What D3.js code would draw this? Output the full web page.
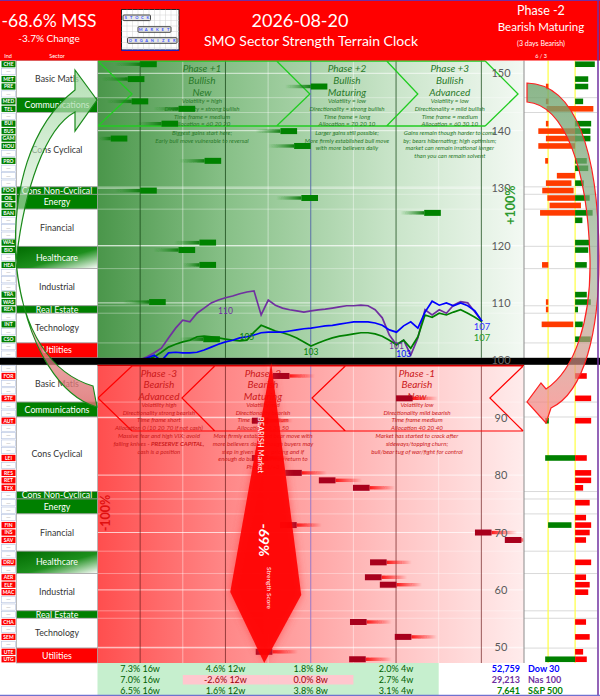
<!DOCTYPE html>
<html><head><meta charset="utf-8">
<script src="https://cdn.jsdelivr.net/npm/d3@7/dist/d3.min.js"></script>
<style>
html,body{margin:0;padding:0;background:#fff;}
svg{display:block;font-family:Lato,"Open Sans",sans-serif;}
</style></head>
<body><svg id="chart" width="600" height="696"></svg>
<script>
// ---------------- DATA ----------------
const sectorNames = ["Basic Matls","Communications","Cons Cyclical","Cons Non-Cyclical","Energy","Financial","Healthcare","Industrial","Real Estate","Technology","Utilities"];
const sectorRows  = [5,2,10,1,2,5,3,5,1,4,2];
const sectorKind  = ["w","g","w","g","g","w","h","w","g","w","r"];
const topTags = ["CHE","","MET","PRE","","MED","TEL","","BUI","BUS","GAM","HOU","","PRO","","","","FOO","OIL","OIL","BAN","","","","WAL","BIO","","HEA","","","","TRA","WAS","REA","","INT","","CSO","",""];
const botTags = ["","FOR","","","STE","","","AUT","","","","","LEI","","RES","RET","TEX","","","","","FIN","INS","SAV","","","DRU","","AER","ELE","MAC","","","","CHA","","SEM","","UTE","UTG"];

// strength bars in the terrain (0-100 across the plot), current and previous
const topBarRow  = [0,2,3,5,6,8,9,10,11,13,17,18,20,24,25,27,32,37];
const topBarNow  = [13.9,11.0,53.9,11.9,22.9,18.9,46.8,7.0,50.0,29.0,13.9,51.7,80.5,27.8,22.9,27.8,16.0,28.7];
const topBarPrev = [4.1,1.0,44.0,2.2,13.1,9.2,37.1,0.2,40.0,19.1,4.1,41.9,71.0,18.0,13.1,20.0,6.0,19.1];
const botBarRow  = [1,4,7,12,14,15,16,21,22,23,26,28,29,34,36,38,39];
const botBarNow  = [41.1,70.0,36.2,36.2,44.0,51.9,59.9,42.8,88.5,95.5,63.9,62.7,66.2,59.2,69.7,37.1,59.0];
const botBarPrev = [51.0,79.8,45.8,45.1,53.8,62.0,69.8,52.6,98.4,100,73.7,72.6,76.1,69.0,79.6,47.0,69.0];

// right panel bars
const topRgRow = [0,2,3,5,8,9,10,13,14,16,18,20,21,24,25,27,31,32,33,35,37];
const topRgLen = [2.7,1.8,1.8,1.1,2.2,2.1,2.1,1.6,1.8,1.2,2.0,2.4,1.0,2.0,1.8,1.6,1.6,2.15,0.4,1.05,2.15];
const topRrRow = [3,5,6,8,9,10,11,13,15,16,17,18,19,20,27,32,33,35];
const topRrFrom= [3.0,3.0,3.1,3.0,1.96,3.0,1.96,2.9,4.5,3.0,2.5,3.2,3.5,2.2,2.47,3.0,3.0,2.42];
const topRrTo  = [3.35,3.35,9.5,3.35,7.3,7.3,7.0,3.3,7.0,6.5,6.8,7.0,7.8,7.0,3.33,3.33,3.33,6.75];
const botRrRow = [1,4,7,12,14,15,16,18,20,21,22,23,26,28,29,30,34,36,38,39];
const botRrLen = [1.6,2.2,2.2,1.6,2.2,2.2,1.1,2.0,1.5,2.2,2.0,1.5,2.2,1.5,2.0,1.8,1.5,2.0,1.1,1.6];
const botRgRow = [7,12,21,39];
const botRgFrom= [2.9,2.9,3.3,2.9];
const botRgTo  = [3.4,7.0,6.5,7.0];

// index lines (rebased to 100)
const dow = [99.9,100.4,100.9,99.9,101.3,101.4,101.3,101.3,101.4,101.8,102.3,102.8,103.2,103.5,103.9,104.1,104.4,104.8,104.9,104.9,104.9,105.1,105.3,105.5,105.6,105.8,106.0,106.1,106.3,106.5,106.7,106.7,106.7,106.5,106.1,105.3,104.9,106.0,106.7,105.6,108.4,110.3,109.6,110.0,109.5,110.0,109.5,108.6,106.8];
const nas = [100.1,100.6,101.3,102.1,103.9,105.6,107.0,106.7,108.2,109.1,110.0,110.5,110.9,111.2,111.6,111.9,112.1,107.9,110.5,109.6,109.1,108.8,108.6,108.4,108.6,108.8,108.9,109.1,109.3,109.5,109.5,109.6,109.5,108.8,107.4,104.4,102.7,103.5,100.9,103.9,108.8,107.9,108.8,108.2,109.6,110.2,110.0,108.4,106.8];
const spx = [99.5,100.1,100.6,101.4,102.3,102.8,103.2,103.5,104.1,104.2,104.1,103.9,103.7,103.5,103.4,103.5,104.9,106.1,105.6,105.1,104.8,104.4,103.9,103.2,102.5,103.0,103.5,103.9,104.2,104.4,104.6,104.8,104.8,104.6,104.2,103.5,102.7,103.5,102.1,104.1,107.9,107.5,108.2,107.9,108.4,108.8,108.2,107.5,106.7];
// value annotations on the lines: series, point index, label, label level
const annSeries = [1,2,2,1,0];
const annIndex  = [12,15,24,36,37];
const annText   = ["110","105","103","101","103"];
const annLevel  = [108.1,103.5,100.9,102.0,100.5];

const axisTicks = [150,140,130,120,110,100,90,80,70,60,50];

const phaseTopTitle = [["Phase +1","Bullish","New"],["Phase +2","Bullish","Maturing"],["Phase +3","Bullish","Advanced"]];
const phaseTopTraits = [["Volatility = high","Directionality = strong bullish","Time frame = medium","Allocation = 60 20 20"],
  ["Volatility = low","Directionality = strong bullish","Time frame = long","Allocation = 70 20 10"],
  ["Volatility = low","Directionality = mild bullish","Time frame = medium","Allocation = 60 30 10"]];
const phaseTopNotes = [["Biggest gains start here;","Early bull move vulnerable to reversal"],
  ["Larger gains still possible;","More firmly established bull move","with more believers daily"],
  ["Gains remain though harder to come","by; bears hibernating; high optimism;","market can remain irrational longer","than you can remain solvent"]];
const phaseTopCenter = [24.5,58.5,82.6];
const phaseBotTitle = [["Phase -3","Bearish","Advanced"],["Phase -2","Bearish","Maturing"],["Phase -1","Bearish","New"]];
const phaseBotTraits = [["Volatility high","Directionality strong bearish","Time frame short","Allocation 0 (10 20 70 if not cash)"],
  ["Volatility mid","Directionality bearish","Time frame medium","Allocation 20 30 50"],
  ["Volatility low","Directionality mild bearish","Time frame medium","Allocation 40 20 40"]];
const phaseBotNotes = [["Massive fear and high VIX; avoid","falling knives -  |PRESERVE CAPITAL,","cash is a position"],
  ["More firmly established bear move with","more believers daily, though buyers may","step in given better pricing and if","enough do bull phase may return to","Phase +1/+3"],
  ["Market has started to crack after","sideways/topping churn;","bull/bear tug of war/fight for control"]];
const phaseBotCenter = [14.4,38.8,74.9];

const tableCells = [["7.3% 16w","4.6% 12w","1.8% 8w","2.0% 4w"],["7.0% 16w","-2.6% 12w","0.0% 8w","2.7% 4w"],["6.5% 16w","1.6% 12w","3.8% 8w","3.1% 4w"]];
const indexValues = ["52,759","29,213","7,641"];
const indexNames  = ["Dow 30","Nas 100","S&P 500"];
const indexColors = ["#0000ff","#7030a0","#008000"];

const mss = "-68.6% MSS", mssChange = "-3.7% Change", dateText = "2026-08-20";
const titleText = "SMO Sector Strength Terrain Clock";
const phaseNow = ["Phase -2","Bearish Maturing","(3 days Bearish)","6 / 3"];
const strengthScore = -69;

// ---------------- SCALES ----------------
const svg = d3.select("#chart");
const defs = svg.append("defs");
const plotX = d3.scaleLinear().domain([0,100]).range([97.5,524]);
const yVal  = d3.scaleLinear().domain([50,150]).range([647.3,73.3]);
const topRow = d3.scaleBand().domain(d3.range(40)).range([60.5,357.8]);
const botRow = d3.scaleBand().domain(d3.range(40)).range([364.8,663]);
const rx = d3.scaleLinear().domain([0,10]).range([524,597]);
const lineX = d3.scaleLinear().domain([0,dow.length-1]).range([140,482]);
const RH = topRow.bandwidth();

function lin(id,x2,y2,stops){
  const g=defs.append("linearGradient").attr("id",id).attr("x1",0).attr("y1",0).attr("x2",x2).attr("y2",y2);
  stops.forEach(s=>g.append("stop").attr("offset",s[0]).attr("stop-color",s[1]).attr("stop-opacity",s[2]==null?1:s[2]));
}
lin("gTop",1,0,[[0,"rgb(74,150,74)"],[0.3,"rgb(135,192,135)"],[0.7,"rgb(202,229,202)"],[1,"rgb(243,249,243)"]]);
lin("gBot",1,0,[[0,"rgb(255,78,78)"],[0.3,"rgb(255,135,135)"],[0.7,"rgb(255,196,196)"],[1,"rgb(255,236,236)"]]);
lin("tailTop",1,0,[[0,"#1f8f1f",0],[1,"#0a7a0a",0.95]]);
lin("tailBot",1,0,[[0,"#ff1010",0.95],[1,"#ff1010",0]]);
lin("gHealth",1,1,[[0,"#006b00"],[0.55,"#1d8f1d"],[1,"#ffffff"]]);
lin("gArrowL",0,1,[[0,"rgb(160,215,160)",0.8],[1,"rgb(235,248,235)",0.45]]);
lin("gArrowL2",0,1,[[0,"rgb(240,180,180)",0.5],[1,"rgb(220,110,110)",0.85]]);
lin("gArrowR",0,1,[[0,"rgb(110,165,110)",0.8],[0.55,"rgb(150,170,140)",0.6],[1,"rgb(255,130,130)",0.75]]);
const glow = defs.append("filter").attr("id","glow").attr("x","-50%").attr("y","-10%").attr("width","200%").attr("height","120%");
glow.append("feGaussianBlur").attr("stdDeviation",4);
const soft = defs.append("filter").attr("id","soft").attr("x","-10%").attr("y","-50%").attr("width","120%").attr("height","200%");
soft.append("feGaussianBlur").attr("stdDeviation",0.6);

svg.append("rect").attr("width",600).attr("height",696).attr("fill","#fff");

// ---------------- PLOT BACKGROUNDS ----------------
const topY0 = topRow.range()[0], topY1 = topRow.range()[1];
const botY0 = botRow.range()[0], botY1 = botRow.range()[1];
svg.append("rect").attr("x",plotX(0)).attr("y",topY0).attr("width",plotX(100)-plotX(0)).attr("height",topY1-topY0).attr("fill","url(#gTop)");
svg.append("rect").attr("x",plotX(0)).attr("y",botY0).attr("width",plotX(100)-plotX(0)).attr("height",botY1-botY0).attr("fill","url(#gBot)");

const bounds = d3.cumsum(sectorRows);
const g = svg.append("g");
bounds.slice(0,-1).forEach(b=>{
  g.append("line").attr("x1",plotX(0)).attr("x2",rx(10)).attr("y1",topRow(b)).attr("y2",topRow(b)).attr("stroke","rgba(255,255,255,0.35)");
  g.append("line").attr("x1",plotX(0)).attr("x2",rx(10)).attr("y1",botRow(b)).attr("y2",botRow(b)).attr("stroke","rgba(255,255,255,0.35)");
});
axisTicks.filter(t=>t!==100).forEach(t=>{
  g.append("line").attr("x1",plotX(0)).attr("x2",plotX(100)).attr("y1",yVal(t)).attr("y2",yVal(t)).attr("stroke","rgba(255,255,255,0.7)").attr("stroke-width",1);
});
d3.range(1,10).forEach(k=>{
  const dark = (k%2===1 && k!==5);
  [[topY0,topY1,"top"],[botY0,botY1,"bot"]].forEach(([a,b,w])=>{
    let col = dark ? (w==="top"?"rgba(20,70,20,0.75)":"rgba(110,30,30,0.7)") : "rgba(255,255,255,0.45)";
    if(k===5) col = w==="top" ? "#5a6fa8" : "#9a7ac8";
    g.append("line").attr("x1",plotX(k*10)).attr("x2",plotX(k*10)).attr("y1",a).attr("y2",b).attr("stroke",col).attr("stroke-width",1);
  });
});

// ---------------- CHEVRONS ----------------
function chevTop(){
  const xs=[[0.1,8.1],[42,49.8],[67.8,75.1],[90.9,98.6]];
  const y0=61,y1=126,ym=94;
  const p=d3.path();
  p.moveTo(plotX(0.1),y0); p.lineTo(plotX(90.9),y0);
  p.moveTo(plotX(0.1),y1); p.lineTo(plotX(90.9),y1);
  xs.forEach(([a,b])=>{p.moveTo(plotX(a),y0);p.lineTo(plotX(b),ym);p.lineTo(plotX(a),y1);});
  svg.append("path").attr("d",p.toString()).attr("fill","none").attr("stroke","#22cc22").attr("stroke-width",1.3);
}
function chevBot(){
  const xs=[[0.1,8.1],[19.8,27.5],[50.3,58.1],[92,99.8]];
  const y0=366,y1=431,ym=398;
  const p=d3.path();
  p.moveTo(plotX(8.1),y0); p.lineTo(plotX(99.8),y0);
  p.moveTo(plotX(8.1),y1); p.lineTo(plotX(99.8),y1);
  xs.forEach(([tip,back])=>{p.moveTo(plotX(back),y0);p.lineTo(plotX(tip),ym);p.lineTo(plotX(back),y1);});
  svg.append("path").attr("d",p.toString()).attr("fill","none").attr("stroke","#ff0000").attr("stroke-width",1.2);
}
chevTop(); chevBot();

function phaseText(titles,traits,notes,centers,yT,yS,yN,color){
  titles.forEach((t,i)=>{
    const cx=plotX(centers[i]);
    const tg=svg.append("g").attr("fill",color).attr("font-style","italic").attr("text-anchor","middle");
    t.forEach((s,j)=>tg.append("text").attr("x",cx).attr("y",yT+j*11.6).attr("font-size",10).text(s));
    traits[i].forEach((s,j)=>tg.append("text").attr("x",cx).attr("y",yS+j*7.7).attr("font-size",6.2).text(s));
    notes[i].forEach((s,j)=>{
      const te=tg.append("text").attr("x",cx).attr("y",yN+j*7.7).attr("font-size",6.1);
      const parts=s.split("|");
      te.append("tspan").text(parts[0]);
      if(parts[1]) te.append("tspan").attr("font-weight","bold").text(parts[1]);
    });
  });
}
phaseText(phaseTopTitle,phaseTopTraits,phaseTopNotes,phaseTopCenter,72.3,103.2,134.8,"#2a7a2a");
phaseText(phaseBotTitle,phaseBotTraits,phaseBotNotes,phaseBotCenter,376.5,407,438.2,"#cc1a1a");

// ---------------- BARS ----------------
const BAR_W = 3.9, BH = 6, TH = 3.4;
const bars = svg.append("g");
topBarRow.forEach((r,i)=>{
  const x1=plotX(topBarNow[i]), x0=plotX(topBarNow[i]-BAR_W), xt=plotX(Math.max(0,topBarPrev[i]));
  const yc=topRow(r)+RH/2;
  if(x0>xt) bars.append("rect").attr("x",xt).attr("y",yc-TH/2).attr("width",x0-xt).attr("height",TH).attr("fill","url(#tailTop)").attr("filter","url(#soft)");
  bars.append("rect").attr("x",Math.max(plotX(0),x0)).attr("y",yc-BH/2).attr("width",x1-Math.max(plotX(0),x0)).attr("height",BH).attr("fill","#058205").attr("filter","url(#soft)");
});
botBarRow.forEach((r,i)=>{
  const x0=plotX(botBarNow[i]), x1=plotX(botBarNow[i]+BAR_W), xt=plotX(Math.min(100,botBarPrev[i]));
  const yc=botRow(r)+RH/2;
  if(xt>x1) bars.append("rect").attr("x",x1).attr("y",yc-TH/2).attr("width",xt-x1).attr("height",TH).attr("fill","url(#tailBot)").attr("filter","url(#soft)");
  bars.append("rect").attr("x",x0).attr("y",yc-BH/2).attr("width",Math.min(plotX(100),x1)-x0).attr("height",BH).attr("fill","#a8001e").attr("filter","url(#soft)");
});

// ---------------- AXIS LABELS ----------------
axisTicks.filter(t=>t!==100).forEach(t=>{
  svg.append("text").attr("x",501).attr("y",yVal(t)+4).attr("text-anchor","middle").attr("font-size",11).attr("fill","#5a5a5a").text(t);
});
svg.append("text").attr("transform",`translate(${plotX(98)},205) rotate(-90)`).attr("text-anchor","middle").attr("font-size",12.5).attr("font-weight","bold").attr("fill","#2f9a2f").text("+100%");
svg.append("text").attr("transform",`translate(${plotX(3)},513) rotate(-90)`).attr("text-anchor","middle").attr("font-size",12.5).attr("font-weight","bold").attr("fill","#e01010").text("-100%");

// ---------------- RIGHT PANEL ----------------
const rp = svg.append("g");
rp.append("rect").attr("x",rx(0)).attr("y",topY0).attr("width",rx(10)-rx(0)).attr("height",topY1-topY0).attr("fill","#fff");
rp.append("rect").attr("x",rx(0)).attr("y",botY0).attr("width",rx(10)-rx(0)).attr("height",botY1-botY0).attr("fill","#fff");
bounds.slice(0,-1).forEach(b=>{
  rp.append("line").attr("x1",rx(0)).attr("x2",rx(10)).attr("y1",topRow(b)).attr("y2",topRow(b)).attr("stroke","#d9d9d9");
  rp.append("line").attr("x1",rx(0)).attr("x2",rx(10)).attr("y1",botRow(b)).attr("y2",botRow(b)).attr("stroke","#d9d9d9");
});
[3.3,7.0].forEach(v=>{
  rp.append("line").attr("x1",rx(v)).attr("x2",rx(v)).attr("y1",topY0).attr("y2",botY1).attr("stroke","#ffff40").attr("stroke-width",1.2);
});
const RB=5.6;
topRrRow.forEach((r,i)=>rp.append("rect").attr("x",rx(topRrFrom[i])).attr("y",topRow(r)+(RH-RB)/2).attr("width",rx(topRrTo[i])-rx(topRrFrom[i])).attr("height",RB).attr("fill","#ff3b00"));
topRgRow.forEach((r,i)=>rp.append("rect").attr("x",rx(7)).attr("y",topRow(r)+(RH-RB)/2).attr("width",rx(7+topRgLen[i])-rx(7)).attr("height",RB).attr("fill","#008000"));
botRgRow.forEach((r,i)=>rp.append("rect").attr("x",rx(botRgFrom[i])).attr("y",botRow(r)+(RH-RB)/2).attr("width",rx(botRgTo[i])-rx(botRgFrom[i])).attr("height",RB).attr("fill","#008000"));
botRrRow.forEach((r,i)=>rp.append("rect").attr("x",rx(7)).attr("y",botRow(r)+(RH-RB)/2).attr("width",rx(7+botRrLen[i])-rx(7)).attr("height",RB).attr("fill","#ff0000"));
rp.append("line").attr("x1",plotX(100)).attr("x2",plotX(100)).attr("y1",topY0).attr("y2",botY1).attr("stroke","#8c8c8c");

// ---------------- INDEX LINES ----------------
const series=[dow,nas,spx], sCol=["#0000ff","#7030a0","#008000"];
const line=d3.line().x((d,i)=>lineX(i)).y(d=>yVal(d));
[nas,spx,dow].forEach((s)=>{
  svg.append("path").attr("d",line(s)).attr("fill","none").attr("stroke",sCol[series.indexOf(s)]).attr("stroke-width",1.7);
});
annSeries.forEach((s,k)=>{
  svg.append("text").attr("x",lineX(annIndex[k])).attr("y",yVal(annLevel[k])).attr("text-anchor","middle").attr("font-size",8.5).attr("fill",sCol[s]).text(annText[k]);
});
svg.append("text").attr("x",lineX(dow.length-1)).attr("y",yVal(dow[dow.length-1])+8.5).attr("text-anchor","middle").attr("font-size",9.5).attr("fill","#3333ff").text(Math.round(dow[dow.length-1]));
svg.append("text").attr("x",lineX(spx.length-1)).attr("y",yVal(spx[spx.length-1])+19).attr("text-anchor","middle").attr("font-size",9.5).attr("fill","#2a9a2a").text(Math.round(spx[spx.length-1]));

// ---------------- LEFT COLUMN ----------------
const left = svg.append("g");
left.append("rect").attr("x",0).attr("y",topY0).attr("width",plotX(0)).attr("height",botY1-topY0).attr("fill","#fff");
function drawTags(tags,band,named){
  tags.forEach((t,i)=>{
    const y=band(i);
    left.append("rect").attr("x",1.5).attr("y",y+0.6).attr("width",14).attr("height",RH-1.2)
      .attr("fill",t?named:"#fff").attr("stroke",t?"none":"#b4c2e0").attr("stroke-width",0.6);
    left.append("text").attr("x",8.5).attr("y",y+RH/2+1.8).attr("text-anchor","middle").attr("font-size",t?5:6).attr("font-weight",t?"bold":"normal")
      .attr("fill",t?"#fff":"#aaa").text(t||"—");
  });
}
drawTags(topTags,topRow,"#008000");
drawTags(botTags,botRow,"#ff0000");
function drawSectors(band){
  let start=0;
  sectorNames.forEach((n,i)=>{
    const y0=band(start), y1=band(start+sectorRows[i]-1)+RH;
    const k=sectorKind[i];
    const fill = k==="w"?"#fff":k==="g"?"#008000":k==="h"?"url(#gHealth)":"#ff0000";
    left.append("rect").attr("x",16.5).attr("y",y0).attr("width",plotX(0)-16.5).attr("height",y1-y0).attr("fill",fill).attr("stroke","#a0a0a0").attr("stroke-width",0.7);
    left.append("text").attr("x",(16.5+plotX(0))/2).attr("y",(y0+y1)/2+3.1).attr("text-anchor","middle").attr("font-size",8.8)
      .attr("fill",k==="w"?"#333":"#fff").text(n);
    start+=sectorRows[i];
  });
}
drawSectors(topRow); drawSectors(botRow);

// black separator band
svg.append("rect").attr("x",0).attr("y",topY1).attr("width",600).attr("height",botY0-topY1).attr("fill","#000");
svg.append("line").attr("x1",plotX(0)).attr("x2",plotX(100)).attr("y1",botY0+0.5).attr("y2",botY0+0.5).attr("stroke","#d00000").attr("stroke-width",1.2);
svg.append("text").attr("x",501).attr("y",yVal(100)+4).attr("text-anchor","middle").attr("font-size",11).attr("fill","#6a6a6a").text(100);

// ---------------- CURVED ARROWS ----------------
svg.append("path").attr("d","M16,262 C12,190 30,125 75,90 L75,70 L97,100 L75,131 L75,112 C45,128 24,190 16,262 Z")
  .attr("fill","url(#gArrowL)").attr("stroke","#1a8a1a").attr("stroke-width",1.2);
svg.append("path").attr("d","M16,262 C22,332 52,374 93,386 L97,407 C64,398 26,352 16,262 Z")
  .attr("fill","url(#gArrowL2)").attr("stroke","#1a8a1a").attr("stroke-width",1.1);
svg.append("path").attr("d","M527,83 C575,84 599,150 599,260 C599,330 585,392 551,408 L546,423 L527,402 L541,383 L546,389 C575,370 591,320 590,260 C588,170 565,105 527,102 Z")
  .attr("fill","url(#gArrowR)").attr("stroke","#ff2020").attr("stroke-width",1.2);

// ---------------- STRENGTH HAND ----------------
const hx = plotX(40.5);
const hand = [[hx+1,363],[hx-40,592],[hx-6,botY1],[hx+31,595]];
svg.append("polygon").attr("points",hand.map(p=>p.join(",")).join(" ")).attr("fill","#ff4040").attr("opacity",0.7).attr("filter","url(#glow)");
svg.append("polygon").attr("points",hand.map(p=>p.join(",")).join(" ")).attr("fill","#ff0000").attr("opacity",0.9);
svg.append("text").attr("transform",`translate(${hx-12},445) rotate(90)`).attr("text-anchor","middle").attr("font-size",7.5).attr("fill","#fff").text("BEARISH Market");
svg.append("text").attr("transform",`translate(${hx-11},540) rotate(90)`).attr("text-anchor","middle").attr("font-size",14).attr("font-weight","bold").attr("fill","#fff").text(strengthScore+"%");
svg.append("text").attr("transform",`translate(${hx-3},588) rotate(90)`).attr("text-anchor","middle").attr("font-size",6.5).attr("fill","#fff").text("Strength Score");

// ---------------- TABLE ----------------
const tY = botY1, tRH = 11;
svg.append("rect").attr("x",plotX(0)).attr("y",tY).attr("width",plotX(80)-plotX(0)).attr("height",696-tY).attr("fill","#c6efce");
tableCells.forEach((row,r)=>{
  row.forEach((c,j)=>{
    const neg = parseFloat(c)<=0;
    if(neg) svg.append("rect").attr("x",plotX(20*j)).attr("y",tY+r*tRH+1).attr("width",plotX(20)-plotX(0)).attr("height",tRH-1.5).attr("fill","#ffc7ce");
    svg.append("text").attr("x",plotX(20*j+10)).attr("y",tY+r*tRH+9).attr("text-anchor","middle").attr("font-size",9).attr("fill",neg?"#9c0006":"#006100").text(c);
  });
  svg.append("text").attr("x",520).attr("y",tY+r*tRH+9).attr("text-anchor","end").attr("font-size",9).attr("font-weight","bold").attr("fill",indexColors[r]).text(indexValues[r]);
  svg.append("text").attr("x",528).attr("y",tY+r*tRH+9).attr("font-size",9).attr("font-weight","bold").attr("fill",indexColors[r]).text(indexNames[r]);
});

// ---------------- HEADER ----------------
svg.append("rect").attr("x",0).attr("y",0).attr("width",600).attr("height",topY0).attr("fill","#ff0000");
const hd=svg.append("g").attr("fill","#fff").attr("text-anchor","middle");
hd.append("text").attr("x",49).attr("y",27).attr("font-size",17.5).text(mss);
hd.append("text").attr("x",49).attr("y",41.5).attr("font-size",10).text(mssChange);
hd.append("text").attr("x",300).attr("y",27).attr("font-size",18).text(dateText);
hd.append("text").attr("x",311).attr("y",46).attr("font-size",14).text(titleText);
hd.append("text").attr("x",541).attr("y",14.5).attr("font-size",12.5).text(phaseNow[0]);
hd.append("text").attr("x",541).attr("y",31).attr("font-size",11.5).text(phaseNow[1]);
hd.append("text").attr("x",541).attr("y",45.5).attr("font-size",7).text(phaseNow[2]);
hd.append("text").attr("x",541).attr("y",57.5).attr("font-size",5.5).text(phaseNow[3]);
hd.append("text").attr("x",8).attr("y",58).attr("font-size",5.5).text("Ind");
hd.append("text").attr("x",57).attr("y",58).attr("font-size",5.5).text("Sector");

// logo
const lg=svg.append("g");
lg.append("rect").attr("x",121.5).attr("y",9.5).attr("width",57.5).attr("height",40.5).attr("fill","#fff").attr("stroke","#222").attr("stroke-width",1);
d3.range(1,11).forEach(k=>lg.append("line").attr("x1",121.5+k*5.5).attr("x2",121.5+k*5.5).attr("y1",9.5).attr("y2",50).attr("stroke","#d0d0d0").attr("stroke-width",0.5));
d3.range(1,8).forEach(k=>lg.append("line").attr("x1",121.5).attr("x2",179).attr("y1",9.5+k*5.5).attr("y2",9.5+k*5.5).attr("stroke","#d0d0d0").attr("stroke-width",0.5));
lg.append("line").attr("x1",121.5).attr("x2",179).attr("y1",50.3).attr("y2",50.3).attr("stroke","#2020c0").attr("stroke-width",1.2);
[["STOCK",123,15],["MARKET",138,26.7],["ORGANIZER",127.5,37.7]].forEach(([w,x,y])=>{
  lg.append("rect").attr("x",x).attr("y",y).attr("width",w.length*5.5).attr("height",5.6).attr("rx",1).attr("fill","#e8e8e8").attr("stroke","#333").attr("stroke-width",0.9);
  w.split("").forEach((ch,i)=>lg.append("text").attr("x",x+2.75+i*5.5).attr("y",y+4.4).attr("text-anchor","middle").attr("font-size",4).attr("font-weight","bold").attr("fill","#3a50ff").text(ch));
});

// frame
svg.append("line").attr("x1",0).attr("x2",600).attr("y1",0.5).attr("y2",0.5).attr("stroke","#7030a0").attr("stroke-width",1);
svg.append("line").attr("x1",598).attr("x2",598).attr("y1",0).attr("y2",696).attr("stroke","#7030a0").attr("stroke-width",1.5);
svg.append("line").attr("x1",0).attr("x2",600).attr("y1",695.3).attr("y2",695.3).attr("stroke","#7070d0").attr("stroke-width",1.2);
</script></body></html>
